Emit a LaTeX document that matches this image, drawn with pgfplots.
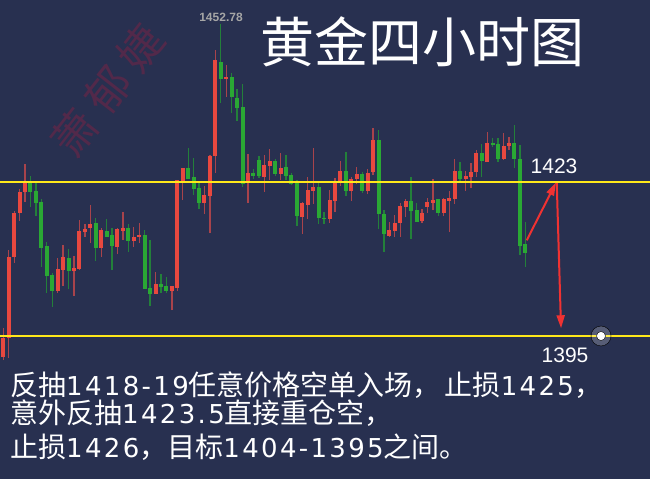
\documentclass[border=0pt]{standalone}
\usepackage{pgfplots}
\pgfplotsset{compat=1.18}
\usepackage{pgfplotstable}
\usepackage{fontspec}
\setmainfont{Liberation Sans}
\newfontfamily\cjk{Noto Sans CJK SC}
\newfontfamily\numf{DejaVu Sans}[LetterSpace=9]
\newcommand\n[1]{{\numf\fontsize{26}{26}\selectfont #1}}
\usetikzlibrary{arrows.meta}

\definecolor{bg}{HTML}{283050}
\definecolor{upbody}{HTML}{E8483F}
\definecolor{upwick}{HTML}{A8434B}
\definecolor{dnbody}{HTML}{2AA834}
\definecolor{dnwick}{HTML}{23803A}
\definecolor{goldline}{HTML}{FFE81A}
\definecolor{arrowred}{HTML}{F03232}
\definecolor{mark}{HTML}{52294A}

% 4h gold candles: index, open, high, low, close
\pgfplotstableread{
i O H L C
1 1391.2 1396.5 1390.6 1394.6
2 1394.6 1410.6 1391.0 1409.4
3 1409.4 1417.7 1408.3 1417.4
4 1417.4 1421.7 1415.9 1421.2
5 1421.2 1426.3 1419.4 1423.0
11 1403.2 1409.2 1402.8 1407.2
12 1407.0 1411.5 1404.1 1409.4
14 1406.8 1409.5 1402.3 1407.4
15 1407.2 1416.1 1407.0 1414.1
16 1413.9 1415.4 1413.0 1414.5
17 1414.6 1418.8 1411.9 1415.4
19 1411.0 1414.6 1409.4 1414.3
22 1411.2 1414.6 1409.9 1414.5
23 1414.1 1417.5 1412.5 1414.6
25 1412.3 1414.8 1411.2 1413.0
26 1413.0 1415.5 1411.9 1413.4
29 1402.6 1406.6 1402.6 1404.4
32 1403.2 1404.1 1399.7 1404.1
33 1403.7 1423.4 1403.2 1423.4
34 1422.8 1425.5 1419.7 1425.5
38 1419.2 1422.3 1417.2 1420.6
39 1420.5 1427.9 1413.7 1427.7
40 1427.7 1447.0 1424.6 1445.2
42 1441.7 1444.3 1438.5 1442.1
46 1423.0 1428.1 1419.2 1424.6
49 1423.9 1427.9 1421.2 1426.1
50 1425.9 1429.0 1423.4 1426.8
52 1424.5 1428.3 1423.4 1425.5
56 1416.6 1419.4 1413.5 1419.2
57 1418.8 1423.9 1416.3 1421.5
58 1421.4 1429.2 1419.0 1422.1
61 1416.3 1421.5 1415.5 1419.7
62 1419.5 1423.7 1417.5 1423.0
63 1422.8 1426.8 1422.3 1425.0
65 1421.4 1423.9 1419.5 1423.5
66 1423.5 1425.7 1422.6 1424.5
68 1421.4 1425.4 1420.8 1424.6
69 1424.8 1432.8 1424.3 1430.6
72 1413.2 1415.7 1413.0 1414.3
73 1414.1 1417.0 1413.0 1415.5
74 1415.5 1419.2 1413.0 1418.6
75 1418.5 1419.9 1416.6 1419.5
78 1415.9 1418.1 1415.5 1417.4
79 1418.5 1420.1 1417.4 1419.4
80 1419.2 1423.5 1417.9 1419.7
82 1417.4 1420.1 1416.8 1419.9
83 1419.5 1421.4 1413.9 1420.1
84 1419.9 1427.2 1419.0 1425.0
86 1423.5 1425.0 1421.4 1424.1
87 1423.9 1426.5 1421.9 1424.8
88 1424.8 1428.8 1423.9 1428.3
90 1426.6 1432.1 1426.6 1430.1
93 1427.2 1431.9 1427.0 1429.5
94 1429.5 1431.2 1428.8 1430.1
}\upcandles

\pgfplotstableread{
i O H L C
6 1423.0 1424.1 1418.5 1421.2
7 1421.4 1422.8 1416.8 1419.2
8 1419.4 1419.9 1407.5 1411.0
9 1411.4 1412.1 1402.8 1405.9
10 1406.1 1406.5 1400.3 1403.2
13 1409.2 1410.8 1403.5 1406.8
18 1415.5 1416.5 1408.6 1411.0
20 1414.1 1416.3 1413.0 1413.0
21 1413.4 1414.6 1407.0 1411.4
24 1414.6 1415.4 1410.3 1412.3
27 1413.4 1414.3 1403.5 1403.5
28 1403.7 1412.5 1400.5 1402.6
30 1404.4 1406.3 1402.8 1403.9
31 1404.1 1405.7 1402.8 1403.2
35 1425.5 1429.2 1423.5 1423.5
36 1423.9 1427.4 1420.6 1421.7
37 1421.9 1422.8 1418.1 1419.2
41 1444.8 1451.7 1437.4 1441.7
43 1442.1 1442.8 1435.5 1438.5
44 1438.3 1439.9 1434.1 1436.5
45 1436.6 1440.8 1422.1 1422.6
47 1424.6 1425.4 1423.5 1424.1
48 1427.0 1427.7 1423.7 1424.1
51 1426.8 1427.2 1424.1 1424.5
53 1425.7 1427.9 1423.4 1424.1
54 1424.3 1424.6 1422.5 1422.6
55 1422.8 1423.4 1415.0 1416.8
59 1422.1 1422.8 1415.4 1416.5
60 1416.5 1417.5 1415.4 1416.3
64 1425.0 1428.5 1420.5 1421.4
67 1424.5 1424.8 1421.0 1421.4
70 1430.6 1432.5 1414.5 1417.2
71 1417.2 1417.9 1410.3 1413.5
76 1419.5 1423.9 1412.6 1417.7
77 1417.9 1419.2 1415.7 1415.7
81 1419.9 1419.9 1416.8 1417.4
85 1425.0 1426.6 1423.0 1423.5
89 1428.3 1429.9 1423.9 1426.8
91 1430.1 1431.0 1429.4 1429.7
92 1429.9 1431.0 1426.6 1427.2
95 1430.1 1433.4 1425.5 1427.2
96 1427.2 1429.7 1409.7 1411.4
97 1411.7 1415.7 1407.5 1410.1
}\downcandles

\pgfplotsset{candle/.style 2 args={draw=none, no markers, forget plot,
  error bars/.cd, y dir=plus, y explicit, error mark=none,
  error bar style={line width=#1, draw=#2, solid}}}

\begin{document}
\begin{tikzpicture}
\fill[bg] (0,0) rectangle (650pt,479pt);
% watermark
\node[text=mark, rotate=52, font=\cjk\fontsize{44}{44}\selectfont] at (108pt,389pt) {萧\hspace{10pt}郁\hspace{10pt}婕};
\begin{axis}[
  at={(0,0)}, anchor=south west,
  width=650pt, height=479pt, scale only axis,
  hide axis,
  xmin=0.393, xmax=119.93,
  ymin=1369.0, ymax=1456.09,
]
  % wicks
  \addplot[candle={1.3pt}{upwick}]
    table[x=i, y=L, y error plus expr=\thisrow{H}-\thisrow{L}] {\upcandles};
  \addplot[candle={1.3pt}{dnwick}]
    table[x=i, y=L, y error plus expr=\thisrow{H}-\thisrow{L}] {\downcandles};
  % bodies
  \addplot[candle={4pt}{upbody}]
    table[x=i, y=O, y error plus expr=\thisrow{C}-\thisrow{O}] {\upcandles};
  \addplot[candle={4pt}{dnbody}]
    table[x=i, y=C, y error plus expr=\thisrow{O}-\thisrow{C}] {\downcandles};
  % levels
  \addplot[goldline, line width=2.5pt] coordinates {(0.393,1423) (119.93,1423)};
  \addplot[goldline, line width=2.5pt] coordinates {(0.393,1395) (119.93,1395)};
  % planned path
  \addplot[arrowred, line width=2pt, -{Triangle[length=13pt, width=8pt]}]
    coordinates {(97.26,1412.4) (102.65,1422.9)};
  \addplot[arrowred, line width=2pt, -{Triangle[length=13pt, width=8pt]}]
    coordinates {(102.78,1422.8) (103.57,1396.4)};
  % cursor dot
  \addplot[only marks, mark=*, mark size=10pt, mark options={draw=none, fill=white, fill opacity=0.22}]
    coordinates {(110.92,1395)};
  \addplot[only marks, mark=*, mark size=4.5pt, mark options={draw=none, fill=white}]
    coordinates {(110.92,1395)};
\end{axis}
\node[text=white, font=\cjk\fontsize{54}{54}\selectfont] at (422pt,437pt) {黄金四小时图};
\node[text=gray!70, font=\bfseries\fontsize{12}{12}\selectfont] at (221pt,462pt) {1452.78};
\node[text=white, font=\fontsize{21}{21}\selectfont] at (554pt,313pt) {1423};
\node[text=white, font=\fontsize{21}{21}\selectfont] at (565pt,124pt) {1395};
\begin{scope}[every node/.style={text=white, anchor=base west, inner sep=0pt,
  font=\cjk\fontsize{28}{28}\selectfont}]
\node at (10pt,83pt) {反抽\n{1418-19}任意价格空单入场，\hspace{4pt}止损\n{1425}，};
\node at (10pt,56pt) {意外反抽\n{1423.5}直接重仓空，};
\node at (10pt,22pt) {止损\n{1426}，目标\n{1404-1395}之间。};
\end{scope}
\end{tikzpicture}
\end{document}
